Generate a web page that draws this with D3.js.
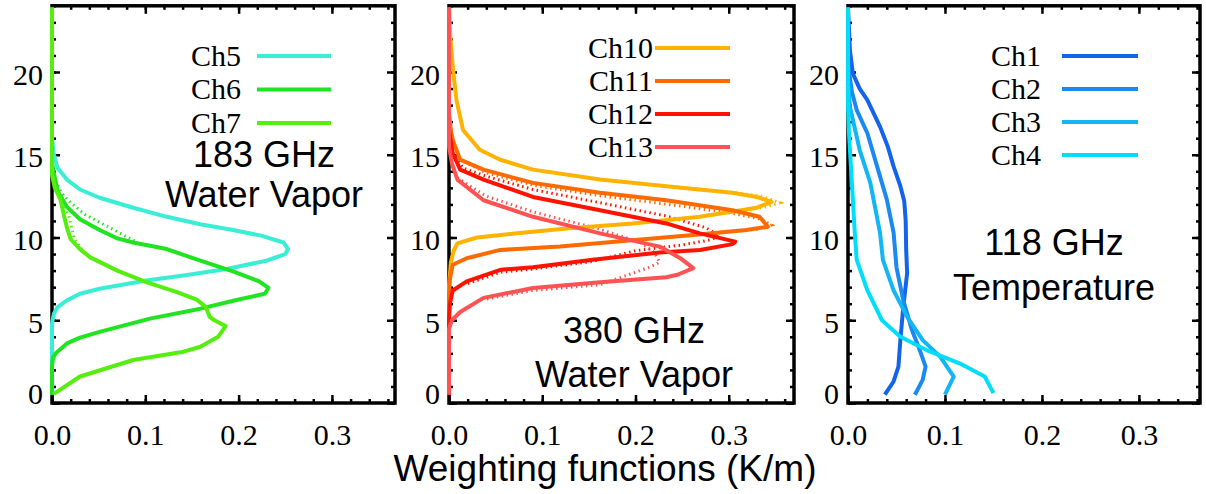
<!DOCTYPE html>
<html>
<head>
<meta charset="utf-8">
<script src="https://cdn.jsdelivr.net/npm/d3@7"></script>
<style>
  html, body { margin: 0; padding: 0; background: #fff; }
  svg { display: block; }
</style>
</head>
<body>
<svg id="chart" width="1206" height="494"></svg>
<script>
// Weighting functions [value K/m, altitude km] for each channel.
// 183 GHz water vapour channels
const ch5 = [[0,23.9],[0,16],[0.002,15],[0.006,14.2],[0.016,13.5],[0.03,12.9],[0.051,12.4],[0.087,11.8],[0.123,11.25],[0.159,10.8],[0.194,10.45],[0.225,10.1],[0.248,9.7],[0.253,9.3],[0.25,9.0],[0.23,8.6],[0.187,8.1],[0.141,7.7],[0.101,7.4],[0.051,6.9],[0.03,6.6],[0.016,6.2],[0.006,5.8],[0.002,5.4],[0,4.8],[0,0.5]];
const ch6 = [[0,23.9],[0,14.5],[0.002,13.9],[0.006,12.8],[0.016,11.85],[0.03,11.1],[0.051,10.45],[0.07,9.95],[0.087,9.7],[0.123,9.3],[0.159,8.6],[0.194,7.95],[0.222,7.35],[0.232,6.95],[0.228,6.6],[0.2,6.25],[0.159,5.7],[0.105,5.1],[0.051,4.3],[0.03,3.95],[0.016,3.6],[0.004,3.0],[0.001,2.7],[0,2.2],[0,0.5]];
const ch7 = [[0,23.9],[0,13.8],[0.003,13],[0.009,12.3],[0.013,11.3],[0.016,10.6],[0.02,9.9],[0.03,9.3],[0.041,8.8],[0.07,8.0],[0.101,7.3],[0.134,6.7],[0.155,6.25],[0.165,5.8],[0.169,5.2],[0.174,5.0],[0.186,4.65],[0.178,4.0],[0.159,3.4],[0.141,3.1],[0.087,2.6],[0.03,1.6],[0.002,0.55]];
const ch6Alt = [[0,14.3],[0.004,13.4],[0.01,12.7],[0.02,12.1],[0.035,11.4],[0.055,10.8],[0.075,10.2],[0.09,9.75]];
const ch7Alt = [[0,13.8],[0.005,12.9],[0.012,12.2],[0.018,11.3],[0.021,10.6],[0.024,9.9],[0.032,9.3]];

// 380 GHz water vapour channels
const ch10 = [[0,23.9],[0.001,22.5],[0.004,20.3],[0.008,18.3],[0.015,16.5],[0.033,15.3],[0.055,14.7],[0.09,14.1],[0.162,13.5],[0.233,13.1],[0.304,12.7],[0.33,12.45],[0.346,12.15],[0.33,11.8],[0.269,11.25],[0.197,10.85],[0.126,10.55],[0.073,10.25],[0.03,10.0],[0.009,9.65],[0.005,9.2],[0.002,8.5],[0,7],[0,0.5]];
const ch11 = [[0,23.9],[0,17.5],[0.002,16.5],[0.004,15.9],[0.012,14.7],[0.037,14.1],[0.09,13.3],[0.162,12.7],[0.233,12.25],[0.304,11.65],[0.333,11.25],[0.342,10.65],[0.319,10.45],[0.262,10.15],[0.19,9.8],[0.119,9.45],[0.055,9.25],[0.019,8.75],[0.004,8.35],[0.001,7.5],[0,6.5],[0,0.5]];
const ch12 = [[0,23.9],[0,16.5],[0.004,15.1],[0.012,14.1],[0.037,13.5],[0.09,12.45],[0.162,11.65],[0.233,10.85],[0.269,10.25],[0.307,9.75],[0.304,9.6],[0.269,9.25],[0.226,9.1],[0.154,8.65],[0.09,8.2],[0.055,8.05],[0.019,7.35],[0.004,6.8],[0.001,6],[0,5],[0,0.5]];
const ch13 = [[0,23.9],[0,15.5],[0.003,14.5],[0.009,13.5],[0.037,12.25],[0.09,11.25],[0.162,10.25],[0.226,9.45],[0.248,8.75],[0.262,8.15],[0.245,7.75],[0.233,7.6],[0.162,7.3],[0.09,6.95],[0.037,6.35],[0.012,5.5],[0.003,5.0],[0,4.5],[0,0.5]];
const ch10Alt = [[0.233,13.1],[0.304,12.72],[0.335,12.5],[0.355,12.1],[0.34,11.85],[0.3,11.5]];
const ch11Alt = [[0.012,14.7],[0.04,13.9],[0.095,13.1],[0.165,12.5],[0.235,12.0],[0.3,11.5],[0.335,11.1],[0.346,10.75],[0.33,10.5],[0.262,10.15]];
const ch12Alt = [[0.004,15.1],[0.015,14.2],[0.04,13.7],[0.09,12.9],[0.162,12.1],[0.233,11.3],[0.275,10.6],[0.29,10.1],[0.28,9.85],[0.25,9.55],[0.2,9.2],[0.154,8.55],[0.09,8.1],[0.055,7.9],[0.019,7.2]];
const ch13Alt = [[0.009,13.6],[0.04,12.5],[0.09,11.55],[0.162,10.5],[0.205,9.7],[0.22,9.1],[0.226,8.5],[0.215,8.2],[0.2,7.9],[0.162,7.15],[0.09,6.8],[0.037,6.25]];

// 118 GHz temperature channels
const ch1 = [[0,23.9],[0.002,21.3],[0.005,19.9],[0.012,19],[0.02,18.3],[0.033,16.7],[0.041,15.5],[0.047,14.3],[0.054,13.1],[0.058,12.2],[0.0595,11.0],[0.06,9.25],[0.061,7.85],[0.057,5.8],[0.054,3.8],[0.052,2.2],[0.047,1.3],[0.038,0.5]];
const ch2 = [[0,23.9],[0,20.5],[0.004,18.8],[0.009,17.7],[0.02,16.3],[0.03,14.3],[0.04,12.3],[0.047,10.3],[0.05,8.2],[0.057,6.2],[0.066,4.4],[0.074,3.2],[0.08,2.2],[0.077,1.4],[0.069,0.5]];
const ch3 = [[0,23.9],[0,19.5],[0.002,17.9],[0.012,15.3],[0.023,13.3],[0.033,10.3],[0.036,8.65],[0.047,6.8],[0.061,5.2],[0.077,3.8],[0.095,2.8],[0.109,1.6],[0.1,0.5]];
const ch4 = [[0,23.9],[0,18],[0.001,16.3],[0.004,13.3],[0.007,10.3],[0.009,8.65],[0.02,6.8],[0.035,5.0],[0.054,4.0],[0.081,3.2],[0.115,2.4],[0.141,1.6],[0.15,0.6]];

// Axis ticks
const xMajorTicks = [0, 0.1, 0.2, 0.3];
const xTickLabels = ["0.0", "0.1", "0.2", "0.3"];
const yMajorTicks = [0, 5, 10, 15, 20];
const yTickLabels = ["0", "5", "10", "15", "20"];
const xMinorStep = 0.02;
const yMinorStep = 1;
const yDomain = [0, 24];

const xTitle = "Weighting functions (K/m)";

const panels = [
  {
    left: 52, right: 395, xMax: 0.3676,
    series: [
      { name: "Ch5", color: "#3aeed6", data: ch5 },
      { name: "Ch6", color: "#1fe41f", data: ch6, alt: ch6Alt },
      { name: "Ch7", color: "#55ee10", data: ch7, alt: ch7Alt }
    ],
    legend: { textRight: 241, x0: 257, x1: 331, y0: 56, step: 33.5 },
    note: { cx: 264, lines: ["183 GHz", "Water Vapor"], baselines: [167, 207] }
  },
  {
    left: 449, right: 794, xMax: 0.37,
    series: [
      { name: "Ch10", color: "#ffb300", data: ch10, alt: ch10Alt },
      { name: "Ch11", color: "#ff6a00", data: ch11, alt: ch11Alt },
      { name: "Ch12", color: "#ff1200", data: ch12, alt: ch12Alt },
      { name: "Ch13", color: "#ff5252", data: ch13, alt: ch13Alt }
    ],
    legend: { textRight: 653, x0: 655, x1: 730, y0: 48, step: 33 },
    note: { cx: 634, lines: ["380 GHz", "Water Vapor"], baselines: [343, 387] }
  },
  {
    left: 848, right: 1200, xMax: 0.363,
    series: [
      { name: "Ch1", color: "#1464ea", data: ch1 },
      { name: "Ch2", color: "#1a8af2", data: ch2 },
      { name: "Ch3", color: "#12b6f6", data: ch3 },
      { name: "Ch4", color: "#02defa", data: ch4 }
    ],
    legend: { textRight: 1041, x0: 1062, x1: 1138, y0: 56, step: 33 },
    note: { cx: 1054, lines: ["118 GHz", "Temperature"], baselines: [255, 300] }
  }
];

const svg = d3.select("#chart");
const plotTop = 5.8, plotBottom = 403;
const serif = "'Liberation Serif', 'Times New Roman', Times, serif";
const sans = "'Liberation Sans', Arial, Helvetica, sans-serif";

const y = d3.scaleLinear().domain(yDomain).range([plotBottom, plotTop]);

function minorTicks(max, step) {
  const out = [];
  for (let i = 0; i * step <= max + 1e-9; i++) out.push(+(i * step).toFixed(4));
  return out;
}

panels.forEach(p => {
  const x = d3.scaleLinear().domain([0, p.xMax]).range([p.left, p.right]);
  const g = svg.append("g");
  const xMinor = minorTicks(p.xMax, xMinorStep);
  const yMinor = minorTicks(yDomain[1], yMinorStep);

  // inward tick marks on all four sides
  const tickSets = [
    { make: () => d3.axisBottom(x), tr: `translate(0,${plotBottom})`, minor: xMinor, major: xMajorTicks },
    { make: () => d3.axisTop(x), tr: `translate(0,${plotTop})`, minor: xMinor, major: xMajorTicks },
    { make: () => d3.axisLeft(y), tr: `translate(${p.left},0)`, minor: yMinor, major: yMajorTicks },
    { make: () => d3.axisRight(y), tr: `translate(${p.right},0)`, minor: yMinor, major: yMajorTicks }
  ];
  tickSets.forEach(t => {
    [[t.minor, -4], [t.major, -8]].forEach(([vals, size]) => {
      g.append("g").attr("transform", t.tr)
        .call(t.make().tickValues(vals).tickSize(size).tickFormat(""))
        .call(s => s.select(".domain").remove())
        .call(s => s.selectAll(".tick line").attr("stroke", "#000").attr("stroke-width", 2.5));
    });
  });

  // frame
  g.append("rect")
    .attr("x", p.left).attr("y", plotTop)
    .attr("width", p.right - p.left).attr("height", plotBottom - plotTop)
    .attr("fill", "none").attr("stroke", "#000").attr("stroke-width", 3.5);

  // tick labels
  g.append("g").attr("transform", `translate(0,${plotBottom})`)
    .call(d3.axisBottom(x).tickValues(xMajorTicks).tickSize(0).tickPadding(21)
      .tickFormat((d, i) => xTickLabels[i]))
    .attr("font-family", serif).attr("font-size", 30)
    .call(s => s.select(".domain").remove())
    .call(s => s.selectAll("text").attr("fill", "#000"));

  g.append("g").attr("transform", `translate(${p.left},0)`)
    .call(d3.axisLeft(y).tickValues(yMajorTicks).tickSize(0).tickPadding(9)
      .tickFormat((d, i) => yTickLabels[i]))
    .attr("font-family", serif).attr("font-size", 30)
    .call(s => s.select(".domain").remove())
    .call(s => s.selectAll("text").attr("fill", "#000")
      .attr("dy", d => d === 0 ? "0.0em" : "0.4em"));

  const line = d3.line().x(d => x(d[0])).y(d => y(d[1])).curve(d3.curveLinear);

  // alternative profiles, dotted, underneath
  p.series.filter(s => s.alt).forEach(s => {
    g.append("path").datum(s.alt)
      .attr("d", line)
      .attr("fill", "none").attr("stroke", s.color)
      .attr("stroke-width", 3).attr("stroke-dasharray", "1.5,3.5");
  });

  // solid profiles
  p.series.forEach(s => {
    g.append("path").datum(s.data)
      .attr("d", line)
      .attr("fill", "none").attr("stroke", s.color)
      .attr("stroke-width", 4).attr("stroke-linejoin", "round");
  });

  // legend
  const lg = p.legend;
  p.series.forEach((s, i) => {
    const ly = lg.y0 + i * lg.step;
    g.append("text")
      .attr("x", lg.textRight).attr("y", ly).attr("dy", "0.33em")
      .attr("text-anchor", "end")
      .attr("font-family", serif).attr("font-size", 30).attr("fill", "#000")
      .text(s.name);
    g.append("line")
      .attr("x1", lg.x0).attr("x2", lg.x1).attr("y1", ly).attr("y2", ly)
      .attr("stroke", s.color).attr("stroke-width", 4);
  });

  // band annotation
  p.note.lines.forEach((t, i) => {
    g.append("text")
      .attr("x", p.note.cx).attr("y", p.note.baselines[i])
      .attr("text-anchor", "middle")
      .attr("font-family", sans).attr("font-size", 36).attr("fill", "#000")
      .text(t);
  });
});

svg.append("text")
  .attr("x", 605).attr("y", 481)
  .attr("text-anchor", "middle")
  .attr("font-family", sans).attr("font-size", 37).attr("fill", "#000")
  .text(xTitle);
</script>
</body>
</html>
